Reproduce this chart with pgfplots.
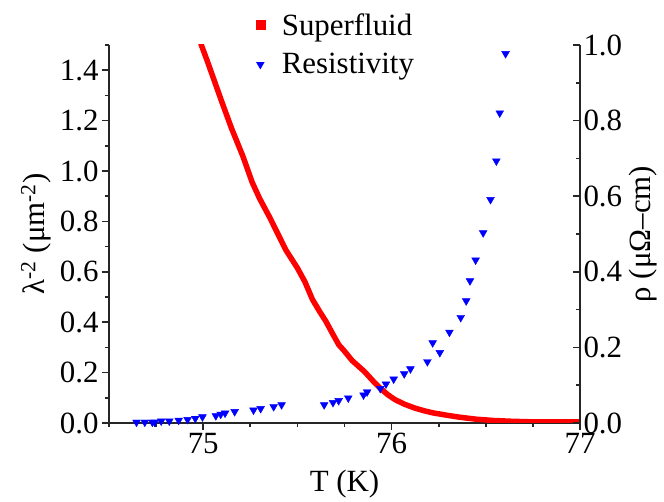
\documentclass[border=0pt]{standalone}
\usepackage{fontspec}
\setmainfont{LiberationSerif}[Extension=.ttf, UprightFont=*-Regular, BoldFont=*-Bold, ItalicFont=*-Italic]
\usepackage{pgfplots}
\pgfplotsset{compat=1.18}
\begin{document}
\begin{tikzpicture}[font=\rmfamily\fontsize{31}{37}\selectfont]
\pgfplotsset{
  common/.style={
    scale only axis, width=471bp, height=378bp,
    xmin=74.5, xmax=77,
    every tick/.style={line width=1.6bp, black!85},
    major tick length=7bp, minor tick length=4bp,
    /pgf/number format/assume math mode=true,
    tick label style={font=\rmfamily\fontsize{31}{37}\selectfont},
    label style={font=\rmfamily\fontsize{31}{37}\selectfont},
    yticklabel style={/pgf/number format/fixed, /pgf/number format/fixed zerofill, /pgf/number format/precision=1},
  },
  noarrow/.style={axis line style={-, line width=1.6bp, black!85},
    every outer x axis line/.append style={-}, every outer y axis line/.append style={-}},
}
\begin{axis}[common, name=ax,
  ymin=0, ymax=1.5,
  axis x line=bottom, axis y line=left, noarrow,
  tick align=outside,
  xtick={75,76,77},
  minor xtick={74.5,74.75,75.25,75.5,75.75,76.25,76.5,76.75},
  ytick={0,0.2,0.4,0.6,0.8,1.0,1.2,1.4},
  minor ytick={0.1,0.3,0.5,0.7,0.9,1.1,1.3,1.5},
  xlabel={T (K)},
  xlabel style={yshift=-9bp},
  ylabel={λ\textsuperscript{-2} (μm\textsuperscript{-2})},
  ylabel style={yshift=2bp},
]
\addplot[red, line width=5.5bp, line join=round] coordinates {
(74.97,1.56) (74.99,1.50) (75.02,1.44) (75.05,1.377) (75.10,1.272) (75.15,1.17)
(75.21,1.06) (75.26,0.955) (75.30,0.89) (75.35,0.82) (75.40,0.745) (75.44,0.685)
(75.50,0.615) (75.54,0.56) (75.58,0.49) (75.62,0.44) (75.65,0.405) (75.69,0.35)
(75.72,0.31) (75.75,0.285) (75.79,0.248) (75.82,0.228) (75.856,0.204) (75.90,0.168)
(75.94,0.138) (75.98,0.112) (76.02,0.092) (76.07,0.074) (76.12,0.060) (76.17,0.049)
(76.22,0.040) (76.30,0.030) (76.36,0.023) (76.45,0.015) (76.54,0.010) (76.63,0.007)
(76.72,0.005) (76.85,0.004) (77.0,0.004)
};
\end{axis}
\begin{axis}[common,
  ymin=0, ymax=1.0,
  axis y line=right, axis x line=none, noarrow,
  tick align=inside,
  ytick={0,0.2,0.4,0.6,0.8,1.0},
  minor ytick={0.1,0.3,0.5,0.7,0.9},
  ylabel={ρ (μΩ–cm)},
  legend cell align=left,
  legend style={draw=none, fill=none, at={(0.305,1.095)}, anchor=north west,
    font=\rmfamily\fontsize{31}{37}\selectfont, row sep=13bp,
    /tikz/every odd column/.append style={column sep=15bp}},
]
\addlegendimage{only marks, mark=square*, mark size=4.5bp, red}
\addlegendentry{Superfluid}
\addplot[only marks, mark=triangle*, mark size=4.5bp, blue, mark options={rotate=180, fill=blue, draw=blue}] coordinates {
(74.646,0.002) (74.69,0.002) (74.73,0.002) (74.742,0.002) (74.777,0.005) (74.82,0.005)
(74.87,0.007) (74.917,0.009) (74.958,0.012) (74.996,0.016) (75.067,0.019) (75.093,0.023)
(75.116,0.026) (75.167,0.030) (75.267,0.034) (75.305,0.038) (75.374,0.043) (75.416,0.048)
(75.642,0.048) (75.689,0.054) (75.719,0.059) (75.77,0.066) (75.851,0.074) (75.87,0.082)
(75.94,0.091) (75.97,0.103) (76.011,0.116) (76.067,0.130) (76.10,0.143) (76.19,0.162)
(76.218,0.212) (76.256,0.186) (76.307,0.240) (76.367,0.279) (76.396,0.323) (76.416,0.376)
(76.446,0.431) (76.486,0.503) (76.525,0.591) (76.556,0.693) (76.574,0.820) (76.605,0.977)
};
\addlegendentry{Resistivity}
\end{axis}
\path (ax.south west) ++(-109bp,-77bp) coordinate (bl);
\path (ax.north east) ++(84bp,45bp) coordinate (tr);
\path (bl) rectangle (tr);
\end{tikzpicture}
\end{document}
